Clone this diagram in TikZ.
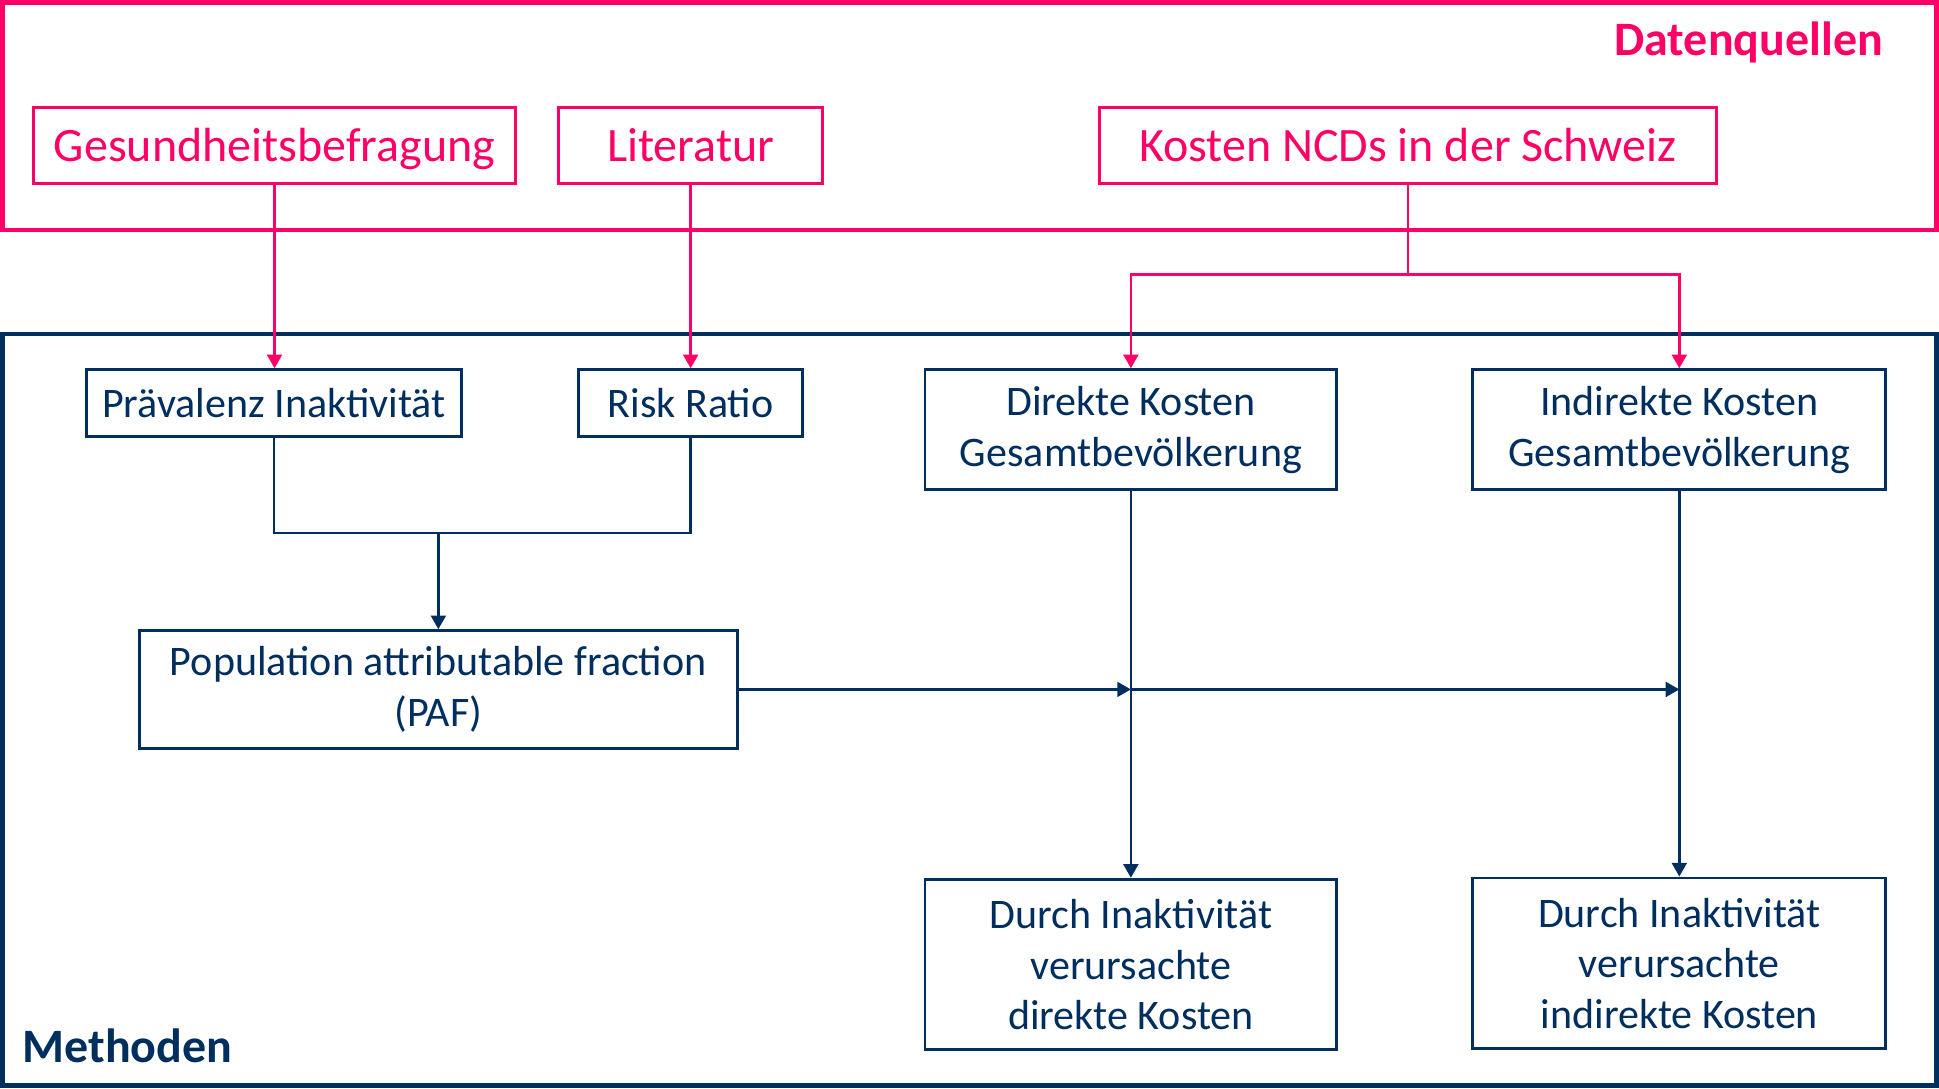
\documentclass[tikz,border=0pt]{standalone}
\usepackage{fontspec}
\setmainfont{Carlito}
\usetikzlibrary{arrows.meta}
\definecolor{pinkc}{HTML}{FF0066}
\definecolor{navyc}{HTML}{002E5F}
\tikzset{
  pbox/.style={draw=pinkc, line width=1.2pt, text=pinkc, inner sep=0pt, minimum height=30.5pt, text height=17pt, text depth=4pt, font=\fontsize{19.4}{23}\selectfont},
  nbox/.style={draw=navyc, line width=1.2pt, text=navyc, inner sep=0pt, align=center, font=\fontsize{17}{20.5}\selectfont},
  nbone/.style={nbox, text height=15pt, text depth=3.5pt},
  parr/.style={draw=pinkc, line width=1pt, -{Triangle[length=5.5pt,width=6pt]}},
  pline/.style={draw=pinkc, line width=1pt},
  narr/.style={draw=navyc, line width=1pt, -{Triangle[length=5.5pt,width=6pt]}},
  nline/.style={draw=navyc, line width=1pt},
  ttl/.style={inner sep=0pt, font=\fontsize{19.4}{23}\selectfont\bfseries}
}
\begin{document}
\begin{tikzpicture}[x=0.5pt,y=-0.5pt]
\useasboundingbox (0,0) rectangle (1568,880);
% frames
\draw[pinkc, line width=1.9pt] (2,2) rectangle (1566,186);
\draw[navyc, line width=1.9pt] (2,270) rectangle (1566,878);
\node[ttl, text=pinkc, anchor=base east] (dq) at (1523,45) {Datenquellen};
\node[ttl, text=navyc, anchor=base west] (me) at (18,859) {Methoden};
% pink boxes
\node[pbox, minimum width=195pt] (gb) at (222,117.5) {Gesundheitsbefragung};
\node[pbox, minimum width=106.5pt] (lit) at (558.5,117.5) {Literatur};
\node[pbox, minimum width=249.5pt] (kos) at (1138.5,117.5) {Kosten NCDs in der Schweiz};
% navy boxes
\node[nbone, minimum width=151.5pt, minimum height=27pt] (prae) at (221.5,326) {Prävalenz Inaktivität};
\node[nbone, minimum width=90.5pt, minimum height=27pt] (rr) at (558.5,326) {Risk Ratio};
\node[nbox, minimum width=166.5pt, minimum height=48.5pt] (dk) at (914.5,347.5) {Direkte Kosten\\Gesamtbevölkerung};
\node[nbox, minimum width=167pt, minimum height=48.5pt] (ik) at (1358,347.5) {Indirekte Kosten\\Gesamtbevölkerung};
\node[nbox, minimum width=241.5pt, minimum height=47.5pt] (paf) at (354.5,557.5) {Population attributable fraction\\(PAF)};
\node[nbox, minimum width=166.5pt, minimum height=69pt] (dd) at (914.5,780) {Durch Inaktivität\\verursachte\\direkte Kosten};
\node[nbox, minimum width=167pt, minimum height=69pt] (di) at (1358,779) {Durch Inaktivität\\verursachte\\indirekte Kosten};
% pink connectors
\draw[parr] (gb.south) -- (gb.south |- prae.north);
\draw[parr] (lit.south) -- (lit.south |- rr.north);
\coordinate (kj) at (1138.5,222);
\draw[pline] (kos.south) -- (kj);
\draw[parr] (kj) -| (dk.north);
\draw[parr] (kj) -| (ik.north);
% navy connectors
\coordinate (mj) at (354.5,431);
\draw[nline] (prae.south) -- (prae.south |- mj) -- (rr.south |- mj) -- (rr.south);
\draw[narr] (mj) -- (paf.north);
\coordinate (pj1) at (dk.south |- paf.east);
\coordinate (pj2) at (ik.south |- paf.east);
\draw[narr] (paf.east) -- (pj1);
\draw[narr] (pj1) -- (pj2);
\draw[narr] (dk.south) -- (dd.north);
\draw[narr] (ik.south) -- (di.north);
\end{tikzpicture}
\end{document}
